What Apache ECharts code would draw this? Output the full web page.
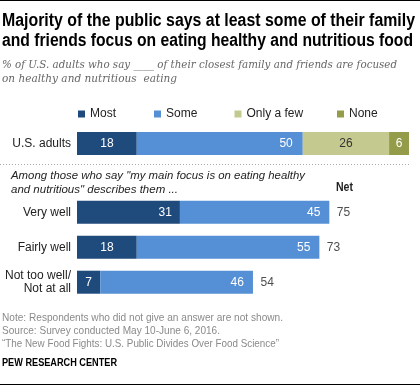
<!DOCTYPE html>
<html>
<head>
<meta charset="utf-8">
<script src="https://cdn.jsdelivr.net/npm/echarts@6/dist/echarts.min.js"></script>
<style>
html,body{margin:0;padding:0;background:#fff;}
#chart{width:420px;height:386px;}
</style>
</head>
<body>
<div id="chart"></div>
<script>
// ---- data ----
const topCategories = ['U.S. adults'];
const legendNames = ['Most', 'Some', 'Only a few', 'None'];
const usMost = [18];
const usSome = [50];
const usFew = [26];
const usNone = [6];
const subCategories = ['Very well', 'Fairly well', 'Not too well/\nNot at all'];
const subMost = [31, 18, 7];
const subSome = [45, 55, 46];
const subNet = [75, 73, 54];

// ---- styles ----
const C_MOST = '#1f4a7c', C_SOME = '#558fd5', C_FEW = '#c4c98f', C_NONE = '#949c4a';
const SANS = "'Liberation Sans', Arial, sans-serif";
const SERIF = "'DejaVu Serif', Georgia, serif";
const TXT = '#222';

const mctx = document.createElement('canvas').getContext('2d');
function txt(text, x, y, w, o) {
  const fs = o.size, fw = o.weight || 'normal', fst = o.style || 'normal', ff = o.family || SANS;
  mctx.font = fst + ' ' + fw + ' ' + fs + 'px ' + ff;
  const s = w ? w / mctx.measureText(text).width : 1;
  return {
    type: 'text', x: x, y: y, scaleX: s, silent: true,
    style: { text: text, fontSize: fs, fontWeight: fw, fontStyle: fst, fontFamily: ff,
      fill: o.fill || TXT, align: 'left', verticalAlign: 'middle' }
  };
}

const chart = echarts.init(document.getElementById('chart'), null, { renderer: 'canvas' });

const baseLabel = { show: true, color: '#fff', fontSize: 12, fontFamily: SANS };

const option = {
  animation: false,
  textStyle: { fontFamily: SANS },
  grid: [
    { left: 77, width: 332, top: 126, height: 35 },
    { left: 77, width: 332, top: 194.7, height: 105 }
  ],
  xAxis: [
    { gridIndex: 0, type: 'value', min: 0, max: 100, show: false },
    { gridIndex: 1, type: 'value', min: 0, max: 100, show: false }
  ],
  yAxis: [
    { gridIndex: 0, type: 'category', data: topCategories, inverse: true,
      axisLine: { show: false }, axisTick: { show: false }, splitLine: { show: false },
      axisLabel: { color: TXT, fontSize: 12, fontFamily: SANS, margin: 6 } },
    { gridIndex: 1, type: 'category', data: subCategories, inverse: true,
      axisLine: { show: false }, axisTick: { show: false }, splitLine: { show: false },
      axisLabel: { color: TXT, fontSize: 12, fontFamily: SANS, margin: 6, lineHeight: 13 } }
  ],
  legend: legendNames.map((n, i) => ({
    data: [n], left: [78, 154, 234.5, 337][i], top: 108, padding: 0,
    itemWidth: 7, itemHeight: 7, icon: 'rect', selectedMode: false,
    textStyle: { color: TXT, fontSize: 12, fontFamily: SANS }
  })),
  series: [
    { name: 'Most', type: 'bar', stack: 'us', xAxisIndex: 0, yAxisIndex: 0, barWidth: 23,
      itemStyle: { color: C_MOST }, label: Object.assign({}, baseLabel, { position: 'inside' }),
      data: usMost },
    { name: 'Some', type: 'bar', stack: 'us', xAxisIndex: 0, yAxisIndex: 0, barWidth: 23,
      itemStyle: { color: C_SOME }, label: Object.assign({}, baseLabel, { position: 'insideRight', distance: 10 }),
      data: usSome },
    { name: 'Only a few', type: 'bar', stack: 'us', xAxisIndex: 0, yAxisIndex: 0, barWidth: 23,
      itemStyle: { color: C_FEW }, label: Object.assign({}, baseLabel, { position: 'inside', color: '#333' }),
      data: usFew },
    { name: 'None', type: 'bar', stack: 'us', xAxisIndex: 0, yAxisIndex: 0, barWidth: 23,
      itemStyle: { color: C_NONE }, label: Object.assign({}, baseLabel, { position: 'inside' }),
      data: usNone },
    { name: 'Most', type: 'bar', stack: 'sub', xAxisIndex: 1, yAxisIndex: 1, barWidth: 23,
      itemStyle: { color: C_MOST }, label: Object.assign({}, baseLabel, { position: 'inside' }),
      data: subMost.map((v, i) => i === 0 ? { value: v, label: { position: 'insideRight', distance: 8 } } : v) },
    { name: 'Some', type: 'bar', stack: 'sub', xAxisIndex: 1, yAxisIndex: 1, barWidth: 23,
      itemStyle: { color: C_SOME }, label: Object.assign({}, baseLabel, { position: 'insideRight', distance: 9 }),
      data: subSome },
    { name: 'Net', type: 'scatter', xAxisIndex: 1, yAxisIndex: 1, symbolSize: 1,
      itemStyle: { color: 'rgba(0,0,0,0)' }, silent: true,
      label: { show: true, position: 'right', distance: 7, color: TXT, fontSize: 12, fontFamily: SANS,
        formatter: p => String(subNet[p.dataIndex]) },
      data: subMost.map((m, i) => [m + subSome[i], i]) }
  ],
  graphic: [
    { type: 'line', silent: true, shape: { x1: 0, y1: 0.5, x2: 420, y2: 0.5 }, style: { stroke: '#000', lineWidth: 1 } },
    txt('Majority of the public says at least some of their family', 2, 21, 413, { size: 18, weight: 'bold', fill: '#000' }),
    txt('and friends focus on eating healthy and nutritious food', 2, 40.8, 411, { size: 18, weight: 'bold', fill: '#000' }),
    txt('% of U.S. adults who say ____ of their closest family and friends are focused', 2, 65.3, 395, { size: 11.5, style: 'italic', family: SERIF, fill: '#666' }),
    txt('on healthy and nutritious  eating', 2, 79, 175, { size: 11.5, style: 'italic', family: SERIF, fill: '#666' }),
    { type: 'line', silent: true, shape: { x1: 0, y1: 164.5, x2: 410, y2: 164.5 }, style: { stroke: '#aaa', lineWidth: 1, lineDash: [1, 2] } },
    txt('Among those who say "my main focus is on eating healthy', 11, 176.2, 294, { size: 11, style: 'italic' }),
    txt('and nutritious" describes them ...', 11, 189.7, 167, { size: 11, style: 'italic' }),
    txt('Net', 336, 187.5, 17, { size: 12, weight: 'bold' }),
    txt('Note: Respondents who did not give an answer are not shown.', 2, 318, 281, { size: 11, fill: '#8a8a8a' }),
    txt('Source: Survey conducted May 10-June 6, 2016.', 2, 331.3, 218, { size: 11, fill: '#8a8a8a' }),
    txt('\u201CThe New Food Fights: U.S. Public Divides Over Food Science\u201D', 2, 344, 277, { size: 11, fill: '#8a8a8a' }),
    txt('PEW RESEARCH CENTER', 2, 363.4, 115, { size: 11, weight: 'bold', fill: '#000' }),
    { type: 'line', silent: true, shape: { x1: 0, y1: 384.5, x2: 420, y2: 384.5 }, style: { stroke: '#000', lineWidth: 1 } }
  ]
};
chart.setOption(option);
</script>
</body>
</html>
